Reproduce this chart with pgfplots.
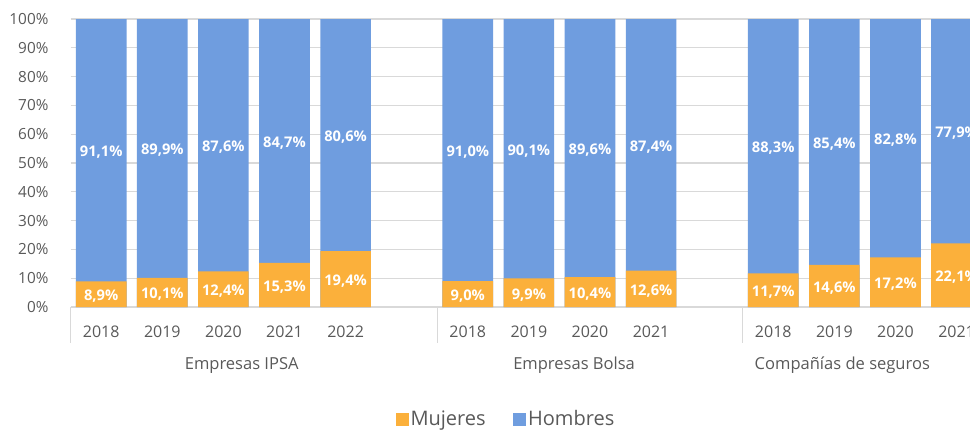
\documentclass[border=0pt]{standalone}
\usepackage{pgfplots}
\pgfplotsset{compat=1.18}
\usepackage{pgfplotstable}
\usepackage{fontspec}
\setmainfont{Open Sans}
\definecolor{muj}{HTML}{FBB03B}
\definecolor{hom}{HTML}{6F9DDF}
\definecolor{txt}{HTML}{595959}
\definecolor{gridc}{HTML}{D9D9D9}

\pgfplotstableread{
x  m     h
0  8.9   91.1
1  10.1  89.9
2  12.4  87.6
3  15.3  84.7
4  19.4  80.6
6  9.0   91.0
7  9.9   90.1
8  10.4  89.6
9  12.6  87.4
11 11.7  88.3
12 14.6  85.4
13 17.2  82.8
14 22.1  77.9
}\datatable

\begin{document}
\begin{tikzpicture}
\begin{axis}[
  scale only axis, width=674.5pt, height=216pt,
  xmin=-0.5, xmax=14.22, ymin=0, ymax=100,
  axis line style={draw=none},
  major tick length=0pt,
  ymajorgrids, grid style={gridc, line width=0.8pt},
  ytick={0,10,...,100},
  yticklabel={\pgfmathprintnumber{\tick}\%},
  /pgf/number format/assume math mode=true,
  yticklabel style={anchor=east, inner sep=0pt, xshift=-16.5pt, text=txt, font=\fontsize{11.5}{13}\selectfont},
  xtick={0,1,2,3,4,6,7,8,9,11,12,13,14},
  xticklabels={2018,2019,2020,2021,2022,2018,2019,2020,2021,2018,2019,2020,2021},
  xticklabel style={anchor=center, inner sep=0pt, yshift=-18.5pt, text=txt, font=\fontsize{12}{14}\selectfont},
  every node near coord/.append style={anchor=center, text=white, font=\bfseries\fontsize{11}{13}\selectfont, yshift=-1.5pt},
  legend style={at={(0.484,-0.389)}, anchor=center, draw=none, fill=none, text=txt,
    font=\fontsize{15}{18}\selectfont, legend columns=2,
    /tikz/every even column/.append style={column sep=19pt},
    nodes={inner sep=1.5pt}},
  legend image code/.code={\fill[#1, draw=none] (0pt,-4.9pt) rectangle (9.75pt,4.85pt);},
  clip=false,
]
\addlegendimage{fill=muj, draw=none}
\addlegendentry{Mujeres}
\addlegendimage{fill=hom, draw=none}
\addlegendentry{Hombres}
% Hombres: stacked on top of Mujeres
\addplot[ybar, bar width=38pt, bar shift=0pt, fill=hom, draw=none, forget plot]
  table[x=x, y expr=\thisrow{m}+\thisrow{h}] {\datatable};
% Mujeres
\addplot[ybar, bar width=38pt, bar shift=0pt, fill=muj, draw=none, forget plot]
  table[x=x, y=m] {\datatable};
% labels
\addplot[draw=none, mark=none, forget plot, point meta=explicit,
  nodes near coords={\pgfmathprintnumber[fixed,fixed zerofill,precision=1,use comma]{\pgfplotspointmeta}\%}]
  table[x=x, y expr=\thisrow{m}/2, meta=m] {\datatable};
\addplot[draw=none, mark=none, forget plot, point meta=explicit,
  nodes near coords={\pgfmathprintnumber[fixed,fixed zerofill,precision=1,use comma]{\pgfplotspointmeta}\%}]
  table[x=x, y expr=\thisrow{m}+\thisrow{h}/2, meta=h] {\datatable};
\draw[gridc, line width=0.8pt] (axis cs:-0.5,0) -- ++(0pt,-27pt);
\draw[gridc, line width=0.8pt] (axis cs:5.5,0) -- ++(0pt,-27pt);
\draw[gridc, line width=0.8pt] (axis cs:10.5,0) -- ++(0pt,-27pt);
\node[text=txt, font=\fontsize{12.4}{14}\selectfont, anchor=center] at ([yshift=-43.5pt]axis cs:2.3,0) {Empresas IPSA};
\node[text=txt, font=\fontsize{12.4}{14}\selectfont, anchor=center] at ([yshift=-43.5pt]axis cs:7.74,0) {Empresas Bolsa};
\node[text=txt, font=\fontsize{12.4}{14}\selectfont, anchor=center] at ([yshift=-43.5pt]axis cs:12.13,0) {Compañías de seguros};
\coordinate (bl) at (rel axis cs:0,0);
\coordinate (tr) at (rel axis cs:1,1);
\end{axis}
\pgfresetboundingbox
\path[use as bounding box] ([xshift=-53pt,yshift=-91.5pt]bl) rectangle ([yshift=14.25pt]tr);
\end{tikzpicture}
\end{document}
